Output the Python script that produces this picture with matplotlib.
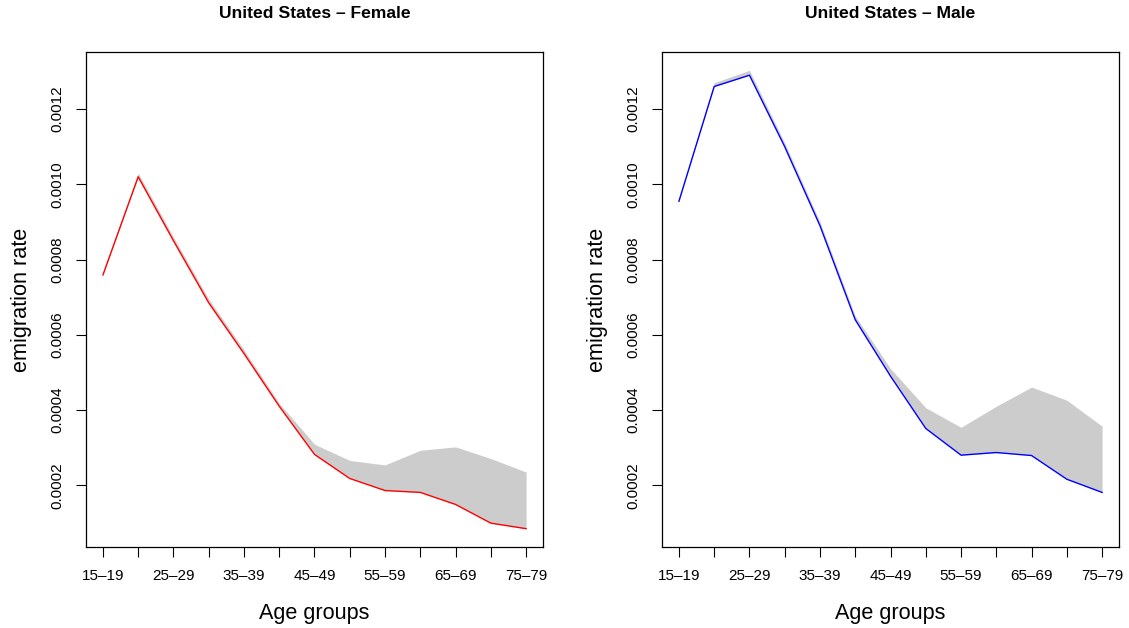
import numpy as np
import matplotlib.pyplot as plt

plt.rcParams['font.family'] = ['Liberation Sans', 'DejaVu Sans']

age_groups = ['15–19', '20–24', '25–29', '30–34', '35–39', '40–44', '45–49',
              '50–54', '55–59', '60–64', '65–69', '70–74', '75–79']

female_rate = [0.000759, 0.00102, 0.00085, 0.000685, 0.00055, 0.00041, 0.000282,
               0.000218, 0.000186, 0.000181, 0.000149, 0.0000993, 0.0000846]
female_upper = [0.000765, 0.00103, 0.00086, 0.000695, 0.00056, 0.000418, 0.000309,
                0.000266, 0.000254, 0.000293, 0.000302, 0.000271, 0.000235]

male_rate = [0.000955, 0.00126, 0.00129, 0.0011, 0.00089, 0.00064, 0.00049,
             0.000351, 0.00028, 0.000287, 0.000279, 0.000216, 0.000181]
male_upper = [0.00096, 0.00127, 0.001303, 0.00111, 0.0009, 0.00065, 0.00051,
              0.000406, 0.000354, 0.00041, 0.000461, 0.000426, 0.000357]

panels = [
    ('United States – Female', female_rate, female_upper, 'red', 86),
    ('United States – Male', male_rate, male_upper, 'blue', 662),
]

W, H = 1129, 628
fig = plt.figure(figsize=(W / 100, H / 100), dpi=100)

ymin = min(female_rate + male_rate)
ymax = max(female_upper + male_upper)
pad = 0.04 * (ymax - ymin)
x = np.arange(1, len(age_groups) + 1)

for title, rate, upper, col, left in panels:
    ax = fig.add_axes([left / W, 1 - 547 / H, 457 / W, (547 - 52) / H])
    ax.fill_between(x, rate, upper, color='#CCCCCC', lw=0, zorder=1)
    ax.plot(x, rate, color=col, lw=1.0, zorder=2)
    ax.set_xlim(1 - 0.04 * 12, 13 + 0.04 * 12)
    ax.set_ylim(ymin - pad, ymax + pad)
    ax.set_xticks(x)
    ax.set_xticklabels([g if i % 2 == 0 else '' for i, g in enumerate(age_groups)])
    yt = [0.0002, 0.0004, 0.0006, 0.0008, 0.0010, 0.0012]
    ax.set_yticks(yt)
    ax.set_yticklabels(['%.4f' % v for v in yt], rotation=90, va='center')
    ax.tick_params(direction='out', length=7.2, width=0.8, labelsize=11, pad=8.5)
    for s in ax.spines.values():
        s.set_linewidth(0.9)
    cx = (left + 457 / 2) / W
    fig.text(cx, 1 - 14 / H, title, ha='center', va='center', fontsize=12.6, fontweight='bold')
    fig.text(cx, 1 - 613 / H, 'Age groups', ha='center', va='center', fontsize=15.6)
    fig.text((left - 64) / W, 0.5 * ((1 - 547 / H) + (1 - 52 / H)), 'emigration rate',
             ha='center', va='center', rotation=90, fontsize=15.6)

fig.savefig('out.png', dpi=100)
